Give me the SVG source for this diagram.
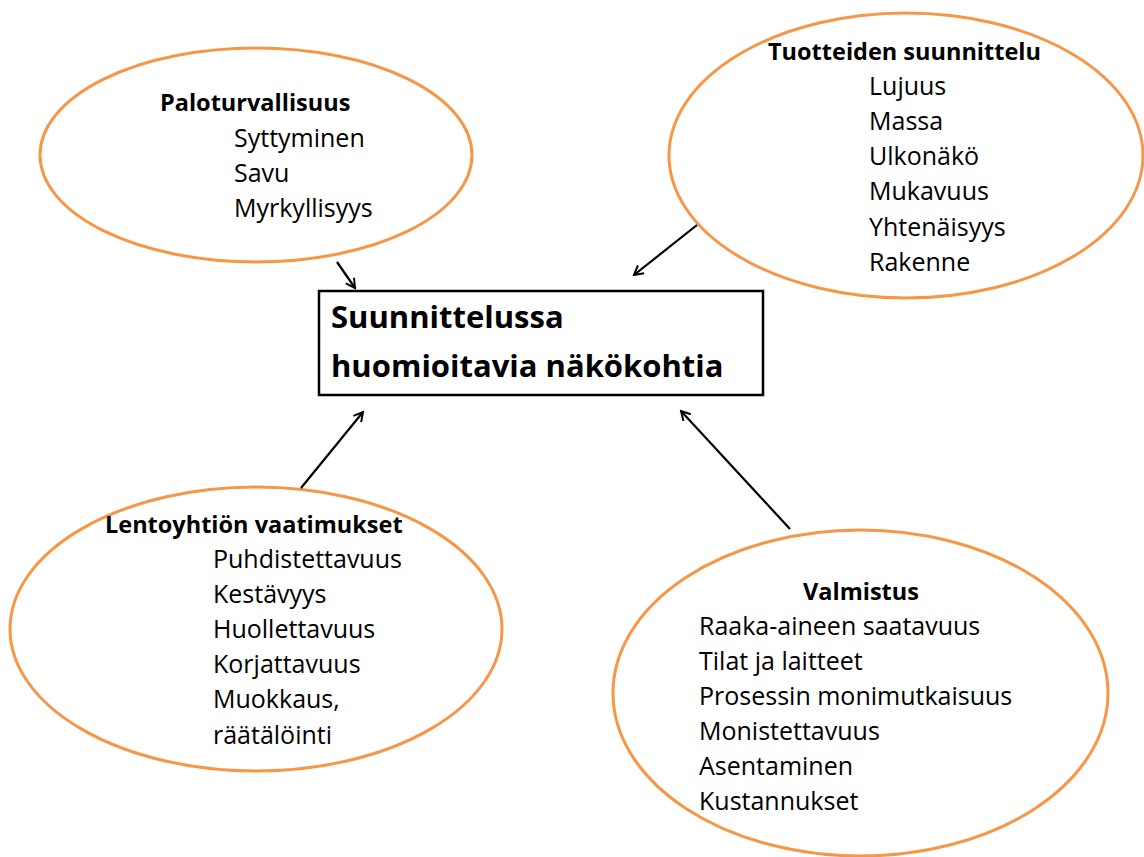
<svg xmlns="http://www.w3.org/2000/svg" width="1144" height="857" viewBox="0 0 1144 857">
<style>
.bub{fill:#fff;stroke:#F79646;stroke-width:3}
.t{font-family:"Open Sans","Noto Sans",sans-serif;fill:#000}
.h{font-weight:bold;font-size:23.5px}
.i{font-size:25px}
.c{font-weight:bold;font-size:31px}
.con line{stroke:#000;stroke-width:2.2;marker-end:url(#ah)}
</style>
<defs>
<marker id="ah" viewBox="0 0 12 12" refX="10" refY="6" markerWidth="12" markerHeight="12" markerUnits="userSpaceOnUse" orient="auto">
<path d="M1,1 L10,6 L1,11" fill="none" stroke="#000" stroke-width="2"/>
</marker>
</defs>
<rect width="1144" height="857" fill="#fff"/>
<g id="palo">
<ellipse class="bub" cx="256" cy="155" rx="216" ry="107"/>
<text class="t h" x="160" y="111">Paloturvallisuus</text>
<text class="t i" x="234" y="147">Syttyminen</text>
<text class="t i" x="234" y="182">Savu</text>
<text class="t i" x="234" y="217">Myrkyllisyys</text>
</g>
<g id="tuote">
<ellipse class="bub" cx="906" cy="155.5" rx="237" ry="142.5"/>
<text class="t h" x="768" y="60">Tuotteiden suunnittelu</text>
<text class="t i" x="869" y="95">Lujuus</text>
<text class="t i" x="869" y="130">Massa</text>
<text class="t i" x="869" y="165">Ulkonäkö</text>
<text class="t i" x="869" y="200">Mukavuus</text>
<text class="t i" x="869" y="236">Yhtenäisyys</text>
<text class="t i" x="869" y="271">Rakenne</text>
</g>
<g id="lento">
<ellipse class="bub" cx="256" cy="629" rx="246" ry="142"/>
<text class="t h" x="105" y="533">Lentoyhtiön vaatimukset</text>
<text class="t i" x="213" y="568">Puhdistettavuus</text>
<text class="t i" x="213" y="603">Kestävyys</text>
<text class="t i" x="213" y="638">Huollettavuus</text>
<text class="t i" x="213" y="673">Korjattavuus</text>
<text class="t i" x="213" y="708">Muokkaus,</text>
<text class="t i" x="213" y="744">räätälöinti</text>
</g>
<g id="valm">
<ellipse class="bub" cx="860.5" cy="693" rx="247.5" ry="163"/>
<text class="t h" x="803" y="600">Valmistus</text>
<text class="t i" x="699" y="635">Raaka-aineen saatavuus</text>
<text class="t i" x="699" y="670">Tilat ja laitteet</text>
<text class="t i" x="699" y="705">Prosessin monimutkaisuus</text>
<text class="t i" x="699" y="740">Monistettavuus</text>
<text class="t i" x="699" y="775">Asentaminen</text>
<text class="t i" x="699" y="810">Kustannukset</text>
</g>
<g id="center">
<rect x="319" y="291" width="444" height="104" fill="#fff" stroke="#000" stroke-width="2.5"/>
<text class="t c" x="331" y="328">Suunnittelussa</text>
<text class="t c" x="331" y="377">huomioitavia näkökohtia</text>
</g>
<g class="con" id="connectors">
<line x1="337" y1="262" x2="355" y2="288"/>
<line x1="697" y1="225" x2="634" y2="275"/>
<line x1="301" y1="488" x2="363" y2="412"/>
<line x1="790" y1="529" x2="681" y2="411"/>
</g>
</svg>
